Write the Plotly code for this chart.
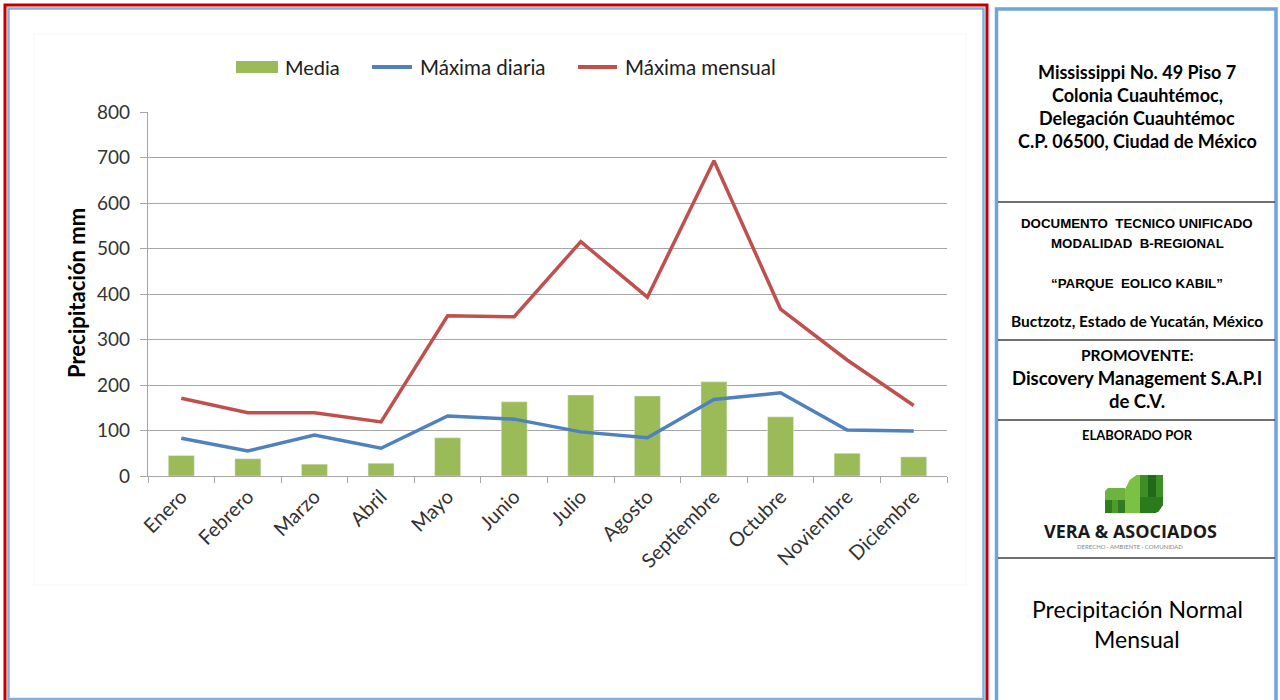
import plotly.graph_objects as go

# Monthly precipitation data (mm)
meses = ["Enero", "Febrero", "Marzo", "Abril", "Mayo", "Junio", "Julio",
         "Agosto", "Septiembre", "Octubre", "Noviembre", "Diciembre"]
media = [45, 38, 26, 28, 84, 163, 178, 176, 207, 130, 50, 42]
maxima_diaria = [83, 55, 90, 61, 132, 125, 97, 84, 168, 183, 101, 99]
maxima_mensual = [171, 139, 139, 119, 352, 350, 515, 393, 693, 367, 255, 155]
y_ticks = [0, 100, 200, 300, 400, 500, 600, 700, 800]

W, H = 1280, 700
L, R, T, B = 148, 947, 112, 476  # plot area in pixels

FONT = "Lato"
GREEN, BLUE, RED = "#9BBB59", "#4F81BD", "#C0504D"


def px(x):
    return (x - L) / (R - L)


def py(y):
    return (B - y) / (B - T)


fig = go.Figure()
fig.add_trace(go.Bar(x=meses, y=media, name="Media", marker_color=GREEN,
                     width=0.39, showlegend=False))
fig.add_trace(go.Scatter(x=meses, y=maxima_diaria, name="Máxima diaria",
                         mode="lines", line=dict(color=BLUE, width=3.5),
                         showlegend=False))
fig.add_trace(go.Scatter(x=meses, y=maxima_mensual, name="Máxima mensual",
                         mode="lines", line=dict(color=RED, width=3.5),
                         showlegend=False))

shapes = []
annotations = []


def rect(x0, y0, x1, y1, line=None, fill=None, width=1):
    shapes.append(dict(type="rect", xref="paper", yref="paper",
                       x0=px(x0), x1=px(x1), y0=py(y0), y1=py(y1),
                       line=dict(color=line or "rgba(0,0,0,0)", width=width if line else 0),
                       fillcolor=fill or "rgba(0,0,0,0)", layer="above"))


def hline(x0, x1, y, color, width):
    shapes.append(dict(type="line", xref="paper", yref="paper",
                       x0=px(x0), x1=px(x1), y0=py(y), y1=py(y),
                       line=dict(color=color, width=width), layer="above"))


def path(points, fill):
    d = "M " + " L ".join(f"{px(a)},{py(b)}" for a, b in points) + " Z"
    shapes.append(dict(type="path", xref="paper", yref="paper", path=d,
                       fillcolor=fill, line=dict(width=0), layer="above"))


def text(x, y, s, size, bold=False, color="#000000", font=FONT, xanchor="center", angle=0):
    annotations.append(dict(xref="paper", yref="paper", x=px(x), y=py(y),
                            text=f"<b>{s}</b>" if bold else s, showarrow=False,
                            xanchor=xanchor, yanchor="middle", textangle=angle,
                            font=dict(family=font, size=size, color=color)))


# Faint chart-area frame
rect(34, 34, 966, 585, line="#f7f7f7", width=1)

# Left panel frame: red outer, light blue inner
shapes.append(dict(type="rect", xref="paper", yref="paper",
                   x0=px(5), x1=px(987), y0=py(5), y1=py(720),
                   line=dict(color="#C00000", width=3), layer="above"))
shapes.append(dict(type="rect", xref="paper", yref="paper",
                   x0=px(8.5), x1=px(983.5), y0=py(8.5), y1=py(699),
                   line=dict(color="#7FB0DF", width=2.5), layer="above"))

# Right panel frame
shapes.append(dict(type="rect", xref="paper", yref="paper",
                   x0=px(996.5), x1=px(1276), y0=py(9), y1=py(720),
                   line=dict(color="#6FA5DA", width=3.5), layer="above"))
for yy in [202, 340, 420, 558]:
    hline(998, 1275, yy, "#404040", 1.5)

# Manual legend
rect(236, 61, 278, 73, fill=GREEN)
text(283, 67, "Media", 20, xanchor="left", color="#202020")
hline(372, 412, 67, BLUE, 4)
text(418, 67, "Máxima diaria", 20.5, xanchor="left", color="#202020")
hline(578, 617, 67, RED, 4)
text(623, 67, "Máxima mensual", 20.5, xanchor="left", color="#202020")

# Y axis title
text(76, 293, "Precipitación mm", 22, bold=True, angle=-90)

# Right panel texts
cx = 1137
for i, s in enumerate(["Mississippi No. 49 Piso 7", "Colonia Cuauhtémoc,",
                       "Delegación Cuauhtémoc", "C.P. 06500, Ciudad de México"]):
    text(cx, 72 + 23 * i, s, 18, bold=True)
text(cx, 223, "DOCUMENTO  TECNICO UNIFICADO", 13.3, bold=True, font="Liberation Sans")
text(cx, 243, "MODALIDAD  B-REGIONAL", 13.3, bold=True, font="Liberation Sans")
text(cx, 283, "“PARQUE  EOLICO KABIL”", 13.3, bold=True, font="Liberation Sans")
text(cx, 321, "Buctzotz, Estado de Yucatán, México", 15.5, bold=True)
text(cx, 355, "PROMOVENTE:", 15.5, bold=True)
text(cx, 378, "Discovery Management S.A.P.I", 18.5, bold=True)
text(cx, 401, "de C.V.", 18.5, bold=True)
text(cx, 435, "ELABORADO POR", 13, bold=True)
text(1130, 531, "VERA &amp; ASOCIADOS", 18, bold=True, color="#1a1a1a", font="Open Sans")
text(1130, 546, "DERECHO · AMBIENTE · COMUNIDAD", 6, color="#888888")
text(cx, 609, "Precipitación Normal", 23)
text(cx, 639, "Mensual", 23)

# Logo mark
path([(1105, 491), (1108, 488), (1125, 488), (1125, 513), (1105, 513)], "#6DB33F")
path([(1105, 500), (1125, 500), (1125, 513), (1105, 513)], "#2F7D1E")
path([(1112, 500), (1118, 500), (1118, 513), (1112, 513)], "#4E9A2C")
path([(1125, 490), (1130, 480), (1137, 475), (1163, 475), (1163, 505),
      (1158, 512), (1152, 513), (1125, 513)], "#3E8E26")
path([(1125, 490), (1130, 480), (1137, 475), (1140, 475), (1140, 513), (1125, 513)], "#7BC143")
path([(1148, 475), (1156, 475), (1156, 513), (1148, 513)], "#1F6B17")
path([(1140, 497), (1163, 497), (1163, 505), (1158, 512), (1152, 513), (1140, 513)], "#2B7A1C")

fig.update_layout(
    width=W, height=H,
    margin=dict(l=L, r=W - R, t=T, b=H - B),
    paper_bgcolor="white", plot_bgcolor="white",
    bargap=0.5,
    shapes=shapes, annotations=annotations,
    font=dict(family=FONT, color="#404040"),
)
fig.update_yaxes(range=[0, 800], tickvals=y_ticks, showgrid=True,
                 gridcolor="#A6A6A6", gridwidth=1.3, showline=True,
                 linecolor="#A6A6A6", linewidth=1.3, ticks="outside",
                 ticklen=7, tickcolor="#A6A6A6", tickfont=dict(size=19, color="#333333"),
                 ticklabelstandoff=6, zeroline=False, fixedrange=True)
fig.update_xaxes(range=[-0.5, 11.5], showline=True, linecolor="#A6A6A6",
                 linewidth=1.3, ticks="outside", ticklen=6, tickcolor="#A6A6A6",
                 tickson="boundaries", tickangle=-45,
                 tickfont=dict(size=20, color="#333333"), showgrid=False,
                 fixedrange=True)

fig.write_html("out.html")
